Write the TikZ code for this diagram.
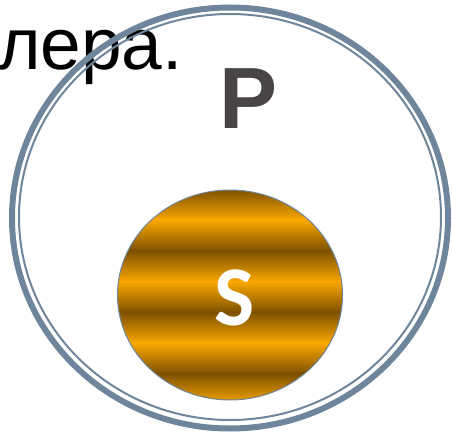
\documentclass[tikz,border=0pt]{standalone}
\usepackage{fontspec}
\setmainfont{Liberation Sans}
\newfontfamily\sfont{Carlito}
\definecolor{ring}{RGB}{110,133,155}
\definecolor{gold}{RGB}{250,168,0}
\definecolor{bronze}{RGB}{125,80,0}
\definecolor{pgray}{RGB}{73,68,69}
\colorlet{midgold}{gold!72!bronze}
\tikzset{
  ringline/.style={draw=ring},
  bigletter/.style={inner sep=0pt}
}
\begin{document}
\begin{tikzpicture}[x=1pt,y=-1pt]
\useasboundingbox (0,0) rectangle (452,436);
\node[anchor=base east, inner sep=0pt, font=\fontsize{73}{80}\selectfont] (t) at (183,70) {лера.};
% outer double ring
\draw[ringline, line width=6pt] (230,218) ellipse [x radius=218, y radius=210.5];
\draw[ringline, line width=2pt] (230,217) ellipse [x radius=211, y radius=203];
% inner striped disc
\begin{scope}
\clip (230,295) ellipse [x radius=112.5, y radius=105];
\foreach \k in {0,...,7}{
  \pgfmathsetmacro\ya{189+30.75*\k}
  \pgfmathsetmacro\yb{\ya+31.25}
  \ifodd\k
    \shade[top color=gold,middle color=midgold,bottom color=bronze] (110,\ya) rectangle (350,\yb);
  \else
    \shade[top color=bronze,middle color=midgold,bottom color=gold] (110,\ya) rectangle (350,\yb);
  \fi
}
\end{scope}
\draw[ringline, line width=1pt] (230,295) ellipse [x radius=112.5, y radius=105];
\node[bigletter, font=\fontsize{87}{90}\selectfont\bfseries, text=pgray] (p) at (248.3,99) {P};
\node[bigletter, font=\sfont\fontsize{85}{90}\selectfont\bfseries, text=white] (s) at (234.7,298) {S};
\end{tikzpicture}
\end{document}
